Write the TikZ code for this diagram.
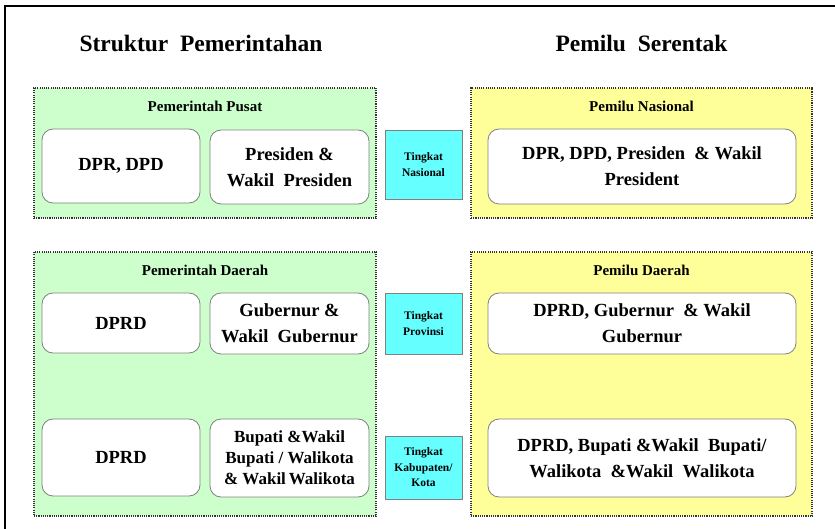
\documentclass[tikz,border=0pt]{standalone}
\usepackage{fontspec}
\setmainfont{Liberation Serif}
\begin{document}
\definecolor{greenbg}{HTML}{CCFFCC}
\definecolor{yellowbg}{HTML}{FFFF99}
\definecolor{cyanbg}{HTML}{66FFFF}
\definecolor{framegray}{HTML}{808080}
\begin{tikzpicture}[x=1pt,y=-1pt,
  panel/.style={draw=black!80, line width=1.4pt, dash pattern=on 1.1pt off 1.1pt,
    minimum width=342pt, inner sep=0pt},
  panellabel/.style={font=\fontsize{15}{18}\selectfont\bfseries},
  heading/.style={font=\fontsize{23.5}{28}\selectfont\bfseries},
  item/.style={draw=framegray, line width=0.8pt, fill=white, rounded corners=11pt,
    inner sep=0pt, align=center, font=\fontsize{18.5}{26}\selectfont\bfseries},
  smallitem/.style={item, font=\fontsize{17}{21}\selectfont\bfseries},
  level/.style={draw=framegray, line width=0.8pt, fill=cyanbg, inner sep=0pt,
    minimum width=77pt, align=center, font=\fontsize{11.5}{15.5}\selectfont\bfseries}]
\useasboundingbox (0,0) rectangle (835,529);

% outer frame: top and left edges
\draw[line width=2.6pt] (5,529) -- (5,6) -- (835,6);

% column headings
\node[heading] (hgov) at (201,43) {Struktur\ \ Pemerintahan};
\node[heading] (hvote) at (641.5,43) {Pemilu\ \ Serentak};

% panels
\node[panel, fill=greenbg, minimum height=130pt] (pusat) at (205,153) {};
\node[panel, fill=greenbg, minimum height=264pt] (daerah) at (205,384) {};
\node[panel, fill=yellowbg, minimum width=341pt, minimum height=130pt] (pnas) at (641.5,153) {};
\node[panel, fill=yellowbg, minimum width=341pt, minimum height=264pt] (pdae) at (641.5,384) {};

\node[panellabel] (lpusat) at (205,106) {Pemerintah Pusat};
\node[panellabel] (ldaerah) at (205,270) {Pemerintah Daerah};
\node[panellabel] (lpnas) at (641.5,106) {Pemilu Nasional};
\node[panellabel] (lpdae) at (641.5,270) {Pemilu Daerah};

% central government
\node[item, minimum width=158pt, minimum height=74pt] (dprdpd) at (121,166) {DPR, DPD};
\node[item, minimum width=159pt, minimum height=74pt] (pres) at (289.5,167) {Presiden \&\\Wakil\ \ Presiden};

% regional government
\node[item, minimum width=158pt, minimum height=60pt] (dprd1) at (121,323) {DPRD};
\node[item, minimum width=159pt, minimum height=61pt] (gub) at (289.5,323.5) {Gubernur \&\\Wakil\ \ Gubernur};
\node[item, minimum width=158pt, minimum height=77pt] (dprd2) at (121,457.5) {DPRD};
\node[smallitem, minimum width=159pt, minimum height=78pt] (bup) at (289.5,458) {Bupati \&Wakil\\Bupati / Walikota\\\& Wakil\,Walikota};

% levels
\node[level, minimum height=69pt] (tnas) at (423.5,164.5) {Tingkat\\Nasional};
\node[level, minimum height=61pt] (tprov) at (423.5,323.5) {Tingkat\\Provinsi};
\node[level, minimum height=63pt] (tkab) at (423.5,467.5) {Tingkat\\Kabupaten/\\Kota};

% concurrent elections
\node[item, minimum width=308pt, minimum height=75pt] (enas) at (642,166.5) {DPR, DPD, Presiden\ \ \& Wakil\\President};
\node[item, minimum width=308pt, minimum height=61pt] (eprov) at (642,323.5) {DPRD, Gubernur\ \ \& Wakil\\Gubernur};
\node[item, minimum width=308pt, minimum height=78pt] (ekab) at (642,458) {DPRD, Bupati \&Wakil\ \ Bupati/\\Walikota\ \ \&Wakil\ \ Walikota};
\end{tikzpicture}
\end{document}
